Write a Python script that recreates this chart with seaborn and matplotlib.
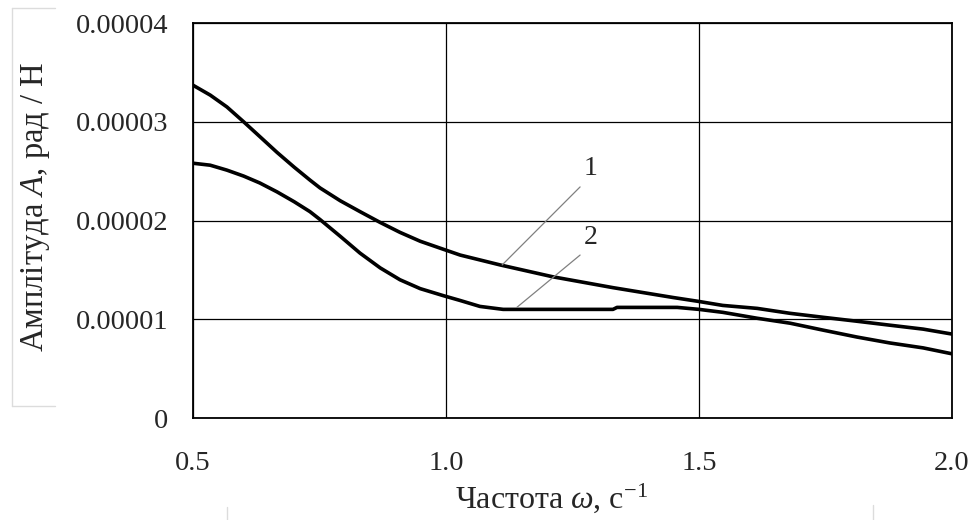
import matplotlib
matplotlib.use("Agg")
import matplotlib.pyplot as plt
from matplotlib.lines import Line2D
import seaborn as sns
import pandas as pd

# ---- data (amplitude in units of 1e-5 rad/N) ----
omega_1 = [0.50, 0.534, 0.567, 0.60, 0.632, 0.666, 0.70, 0.731, 0.751, 0.791, 0.83,
           0.87, 0.909, 0.949, 0.994, 1.028, 1.107, 1.211, 1.33, 1.449, 1.50, 1.547,
           1.615, 1.68, 1.745, 1.812, 1.877, 1.943, 2.00]
amp_1 = [3.37, 3.27, 3.15, 3.00, 2.85, 2.69, 2.54, 2.41, 2.33, 2.20, 2.09,
         1.98, 1.88, 1.79, 1.71, 1.65, 1.55, 1.43, 1.32, 1.22, 1.18, 1.14,
         1.11, 1.06, 1.02, 0.98, 0.94, 0.90, 0.85]

omega_2 = [0.50, 0.534, 0.567, 0.60, 0.632, 0.666, 0.70, 0.731, 0.751, 0.791, 0.83,
           0.87, 0.909, 0.949, 0.994, 1.028, 1.067, 1.113, 1.33, 1.338, 1.457, 1.50,
           1.547, 1.615, 1.68, 1.745, 1.812, 1.877, 1.943, 2.00]
amp_2 = [2.58, 2.56, 2.51, 2.45, 2.38, 2.29, 2.19, 2.09, 2.01, 1.84, 1.67,
         1.52, 1.40, 1.31, 1.24, 1.19, 1.13, 1.10, 1.10, 1.12, 1.12, 1.10,
         1.07, 1.01, 0.96, 0.89, 0.82, 0.76, 0.71, 0.65]
amp_scale = 1e-5

x_ticks = [0.5, 1.0, 1.5, 2.0]
x_tick_labels = ["0.5", "1.0", "1.5", "2.0"]
y_ticks = [0, 1e-5, 2e-5, 3e-5, 4e-5]
y_tick_labels = ["0", "0.00001", "0.00002", "0.00003", "0.00004"]

curve_labels = ["1", "2"]
x_label = "Частота $\\omega$, с$^{-1}$"
y_label = "Амплітуда $A$, рад / Н"

df = pd.concat([
    pd.DataFrame({"omega": omega_1, "amp": [a * amp_scale for a in amp_1],
                  "curve": curve_labels[0]}),
    pd.DataFrame({"omega": omega_2, "amp": [a * amp_scale for a in amp_2],
                  "curve": curve_labels[1]}),
])

sns.set_style("white")
plt.rcParams["font.family"] = ["Liberation Serif", "DejaVu Serif"]
plt.rcParams["mathtext.fontset"] = "custom"
plt.rcParams["mathtext.rm"] = "Liberation Serif"
plt.rcParams["mathtext.it"] = "Liberation Serif:italic"

W, H = 971, 520
fig = plt.figure(figsize=(W / 100, H / 100), dpi=100)
ax = fig.add_axes([193 / W, 1 - 418 / H, (952 - 193) / W, (418 - 23) / H])

sns.lineplot(data=df, x="omega", y="amp", hue="curve", palette=["black", "black"],
             estimator=None, sort=False, linewidth=2.6, legend=False, ax=ax)

ax.set_xlim(0.5, 2.0)
ax.set_ylim(0, 4e-5)
ax.set_xticks(x_ticks)
ax.set_xticklabels(x_tick_labels)
ax.set_yticks(y_ticks)
ax.set_yticklabels(y_tick_labels)
ax.tick_params(axis="x", length=0, pad=24, labelsize=20.5)
ax.tick_params(axis="y", length=0, pad=18, labelsize=20.5)
ax.grid(True, color="black", linewidth=0.9)
ax.set_axisbelow(True)
for s in ax.spines.values():
    s.set_color("black")
    s.set_linewidth(1.3)
ax.set_xlabel("")
ax.set_ylabel("")

# curve labels with leader lines
ax.plot([1.111, 1.265], [1.55e-5, 2.34e-5], color="#808080", linewidth=0.9)
ax.plot([1.140, 1.265], [1.12e-5, 1.65e-5], color="#808080", linewidth=0.9)
ax.text(1.285, 2.53e-5, curve_labels[0], fontsize=20, ha="center", va="center")
ax.text(1.285, 1.83e-5, curve_labels[1], fontsize=20, ha="center", va="center")

fig.text(551 / W, 1 - 508 / H, x_label, fontsize=23, ha="center", va="baseline")
fig.text(35 / W, 1 - 207 / H, y_label, fontsize=23.5, ha="center", va="center",
         rotation=90)

# faint frame remnants
g = "#dcdcdc"
fig.add_artist(Line2D([12 / W, 12 / W], [1 - 8 / H, 1 - 406 / H], color=g, lw=1, transform=fig.transFigure))
fig.add_artist(Line2D([12 / W, 55 / W], [1 - 8 / H, 1 - 8 / H], color=g, lw=1, transform=fig.transFigure))
fig.add_artist(Line2D([12 / W, 55 / W], [1 - 406 / H, 1 - 406 / H], color=g, lw=1, transform=fig.transFigure))
fig.add_artist(Line2D([227 / W, 227 / W], [0, 1 - 507 / H], color=g, lw=1, transform=fig.transFigure))
fig.add_artist(Line2D([873 / W, 873 / W], [0, 1 - 505 / H], color=g, lw=1, transform=fig.transFigure))

fig.savefig("out.png", dpi=100)
